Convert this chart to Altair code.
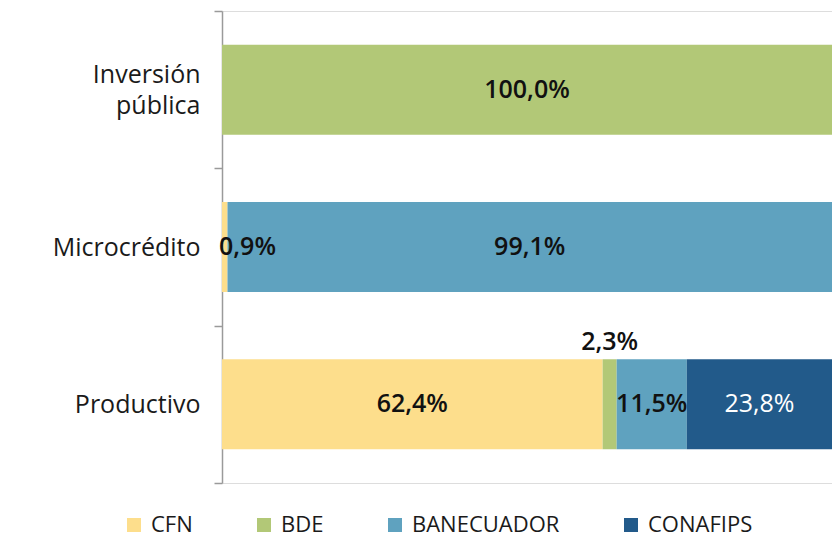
import altair as alt
import pandas as pd

# Data
categories = ["Inversión pública", "Microcrédito", "Productivo"]
institutions = ["CFN", "BDE", "BANECUADOR", "CONAFIPS"]
colors = ["#FDDE8C", "#B2C877", "#5FA2BF", "#225A8A"]

row_cat = ["Inversión pública", "Microcrédito", "Microcrédito",
           "Productivo", "Productivo", "Productivo", "Productivo"]
row_inst = ["BDE", "CFN", "BANECUADOR", "CFN", "BDE", "BANECUADOR", "CONAFIPS"]
row_share = [100.0, 0.9, 99.1, 62.4, 2.3, 11.5, 23.8]

df = pd.DataFrame({
    "cat": row_cat,
    "inst": row_inst,
    "share": row_share,
})
df["orden"] = df["inst"].map({k: i for i, k in enumerate(institutions)})
df["label"] = df["share"].map(lambda v: f"{v:.1f}%".replace(".", ","))

FONT = "Open Sans"

yscale = alt.Scale(paddingInner=0, paddingOuter=0)

y_enc = alt.Y(
    "cat:N",
    sort=categories,
    title=None,
    scale=yscale,
    axis=alt.Axis(
        tickBand="extent",
        ticks=True,
        tickSize=8,
        tickColor="#9a9a9a",
        tickWidth=1.5,
        domainColor="#9a9a9a",
        domainWidth=1.5,
        grid=False,
        labelFontSize=25,
        labelFont=FONT,
        labelColor="#1a1a1a",
        labelPadding=14,
        labelLineHeight=31,
        labelLimit=300,
        labelOffset={"condition": {"test": "datum.value == 'Inversión pública'", "value": -15}, "value": 0},
        labelExpr="datum.value == 'Inversión pública' ? ['Inversión', 'pública\u00a0\u00a0'] : datum.value",
    ),
)

y_plain = alt.Y("cat:N", sort=categories, scale=yscale)

base = alt.Chart(df).transform_stack(
    stack="share",
    groupby=["cat"],
    as_=["x0", "x1"],
    sort=[alt.SortField("orden", order="ascending")],
).transform_calculate(mid="(datum.x0 + datum.x1) / 2")

xscale = alt.Scale(domain=[0, 100], nice=False, zero=True)

bars = base.mark_bar(size=90).encode(
    x=alt.X("x0:Q", scale=xscale, axis=None),
    x2="x1:Q",
    y=y_enc,
    color=alt.Color(
        "inst:N",
        scale=alt.Scale(domain=institutions, range=colors),
        legend=alt.Legend(
            title=None,
            orient="none",
            legendX=-99,
            legendY=503,
            direction="horizontal",
            symbolType="square",
            symbolSize=196,
            symbolStrokeWidth=0,
            labelFontSize=22,
            labelFont=FONT,
            labelColor="#1a1a1a",
            labelOffset=6,
            columnPadding=60,
            labelLimit=300,
        ),
    ),
)

normal_filter = (
    "!(datum.cat == 'Microcrédito' && datum.inst == 'CFN') && "
    "!(datum.cat == 'Productivo' && datum.inst == 'BDE') && datum.inst != 'CONAFIPS'"
)

txt_main = base.transform_filter(normal_filter).mark_text(
    font=FONT, fontSize=25, fontWeight=600, color="#111111", baseline="middle"
).encode(
    x=alt.X("mid:Q", scale=xscale, axis=None),
    y=y_plain,
    text="label:N",
)

txt_white = base.transform_filter("datum.inst == 'CONAFIPS'").mark_text(
    font=FONT, fontSize=25, fontWeight="normal", color="white", baseline="middle"
).encode(
    x=alt.X("mid:Q", scale=xscale, axis=None),
    y=y_plain,
    text="label:N",
)

txt_left = base.transform_filter(
    "datum.cat == 'Microcrédito' && datum.inst == 'CFN'"
).mark_text(
    font=FONT, fontSize=25, fontWeight=600, color="#111111",
    baseline="middle", align="left", dx=-3,
).encode(
    x=alt.X("x0:Q", scale=xscale, axis=None),
    y=y_plain,
    text="label:N",
)

txt_above = base.transform_filter(
    "datum.cat == 'Productivo' && datum.inst == 'BDE'"
).mark_text(
    font=FONT, fontSize=25, fontWeight=600, color="#111111",
    baseline="middle", align="center", dy=-62,
).encode(
    x=alt.X("mid:Q", scale=xscale, axis=None),
    y=y_plain,
    text="label:N",
)

chart = alt.layer(bars, txt_main, txt_white, txt_left, txt_above).properties(
    width=610,
    height=472,
    padding={"left": 214, "top": 3, "right": 0, "bottom": 56},
    autosize=alt.AutoSizeParams(type="none"),
).configure_view(strokeWidth=0, stroke="transparent").configure(background="white")

chart.save("out.html", embed_options={"renderer": "svg", "actions": False})
